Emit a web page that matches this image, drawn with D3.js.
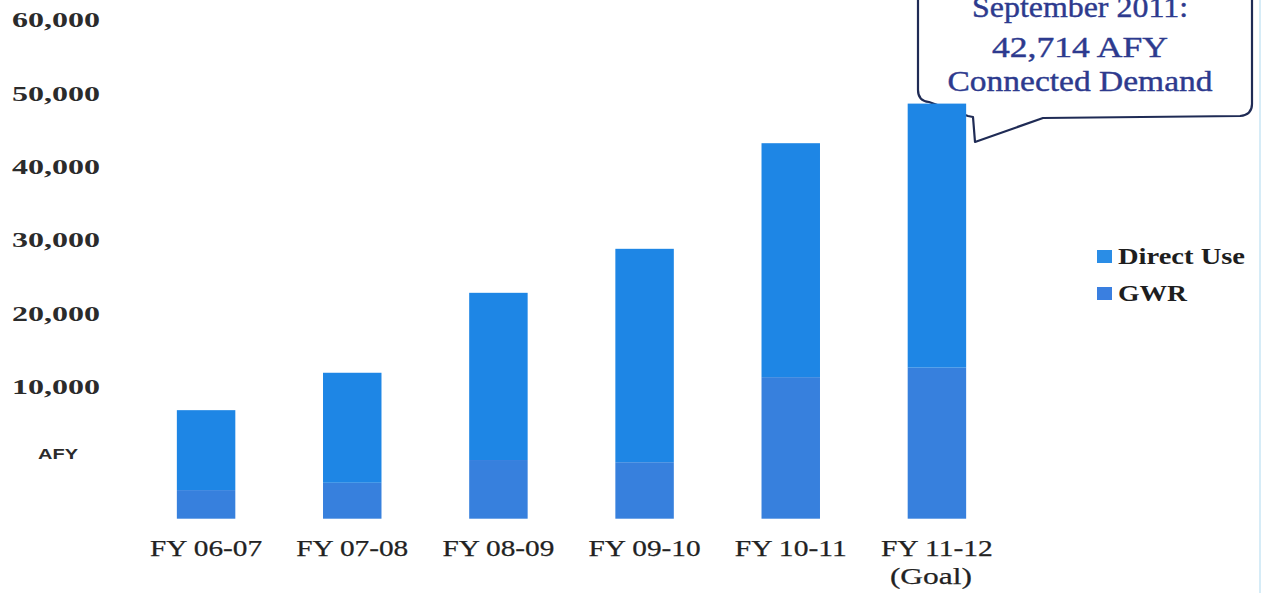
<!DOCTYPE html>
<html>
<head>
<meta charset="utf-8">
<script src="https://cdn.jsdelivr.net/npm/d3@7/dist/d3.min.js"></script>
<style>
  html, body { margin: 0; padding: 0; background: #ffffff; }
  svg { display: block; }
</style>
</head>
<body>
<svg id="chart" width="1263" height="593"></svg>
<script>
// ---- data (segment lengths in AFY) ----
const categories = ["FY 06-07", "FY 07-08", "FY 08-09", "FY 09-10", "FY 10-11", "FY 11-12"];
const subLabels = ["", "", "", "", "", "(Goal)"];
const gwrValues = [3900, 4900, 8000, 7700, 19300, 20600];
const directUseValues = [10900, 15000, 22800, 29100, 31900, 36000];
const seriesNames = ["GWR", "Direct Use"];
const yTickValues = [0, 10000, 20000, 30000, 40000, 50000, 60000];
const legendNames = ["Direct Use", "GWR"];
const calloutLines = ["September 2011:", "42,714 AFY", "Connected Demand"];

const colors = { "Direct Use": "#1e86e5", "GWR": "#3780dd" };
const legendColors = { "Direct Use": "#2a8de6", "GWR": "#3a7fe0" };

const svg = d3.select("#chart");

const y = d3.scaleLinear().domain([-8000, 60000]).range([518.7, 20]);
const x = d3.scaleBand().domain(categories).range([133, 1010]).paddingInner(0.6).paddingOuter(0.3);
const base = y.domain()[0];

// right scan edge
svg.append("line").attr("x1", 1260).attr("x2", 1260).attr("y1", 0).attr("y2", 593)
  .attr("stroke", "#d6ecf7").attr("stroke-width", 2);

// ---- callout (drawn first so the bar covers its lower-left) ----
const callout = svg.append("g");
callout.append("path")
  .attr("d", "M918,-20 L918,90 Q918,101 929,102 L968,116 L973,117 L975,142 L1043,118 L1240,116 Q1252,115 1252,104 L1252,-20")
  .attr("fill", "#ffffff").attr("stroke", "#1f2b55").attr("stroke-width", 2.2)
  .attr("stroke-linejoin", "round");
const calloutWidths = [216, 176, 265];
const calloutY = [17, 57, 91];
callout.selectAll("text").data(calloutLines).join("text")
  .attr("x", 1080).attr("y", (d, i) => calloutY[i])
  .attr("text-anchor", "middle")
  .attr("font-family", "'Liberation Serif', serif")
  .attr("font-size", 29)
  .attr("textLength", (d, i) => calloutWidths[i]).attr("lengthAdjust", "spacingAndGlyphs")
  .attr("fill", "#2d3a8e").attr("stroke", "#2d3a8e").attr("stroke-width", 0.4)
  .text(d => d);

// ---- stacked bars ----
const rows = categories.map((c, i) => ({ cat: c, "GWR": gwrValues[i], "Direct Use": directUseValues[i] }));
const stacked = d3.stack().keys(seriesNames)(rows);

svg.append("g").selectAll("g").data(stacked).join("g")
  .attr("fill", s => colors[s.key])
  .selectAll("rect").data(s => s).join("rect")
  .attr("x", d => x(d.data.cat))
  .attr("width", x.bandwidth())
  .attr("y", d => y(base + d[1]))
  .attr("height", d => y(base + d[0]) - y(base + d[1]));

// ---- y axis ----
const yAxis = svg.append("g").attr("transform", "translate(100,0)")
  .call(d3.axisLeft(y).tickValues(yTickValues).tickSize(0).tickPadding(0)
    .tickFormat(d => d === 0 ? "AFY" : d3.format(",")(d)));
yAxis.select(".domain").remove();
yAxis.selectAll("text")
  .attr("font-family", "'Liberation Serif', serif")
  .attr("font-weight", "bold")
  .attr("font-size", 21)
  .attr("textLength", 88).attr("lengthAdjust", "spacingAndGlyphs")
  .attr("fill", "#2b2b2b");
yAxis.selectAll(".tick").filter(d => d === 0).select("text")
  .attr("font-family", "'Liberation Sans', Arial, sans-serif")
  .attr("font-size", 14)
  .attr("textLength", 40)
  .attr("x", -22).attr("dy", "-0.1em");

// ---- x labels ----
const xl = svg.append("g");
xl.selectAll("text.cat").data(categories).join("text").attr("class", "cat")
  .attr("x", d => x(d) + x.bandwidth() / 2)
  .attr("y", 556)
  .attr("text-anchor", "middle")
  .attr("font-family", "'Liberation Serif', serif")
  .attr("font-size", 24)
  .attr("textLength", 112).attr("lengthAdjust", "spacingAndGlyphs")
  .attr("fill", "#222").attr("stroke", "#222").attr("stroke-width", 0.25)
  .text(d => d);
xl.selectAll("text.sub").data(categories.map((c, i) => ({ c, s: subLabels[i] })).filter(d => d.s))
  .join("text").attr("class", "sub")
  .attr("x", d => x(d.c) + x.bandwidth() / 2 - 6)
  .attr("y", 584)
  .attr("text-anchor", "middle")
  .attr("font-family", "'Liberation Serif', serif")
  .attr("font-size", 24)
  .attr("textLength", 82).attr("lengthAdjust", "spacingAndGlyphs")
  .attr("fill", "#222").attr("stroke", "#222").attr("stroke-width", 0.25)
  .text(d => d.s);

// ---- legend ----
const legendWidths = [127, 69];
const lg = svg.append("g").attr("transform", "translate(1097,248)");
const li = lg.selectAll("g").data(legendNames).join("g")
  .attr("transform", (d, i) => `translate(0,${i * 37})`);
li.append("rect").attr("width", 15).attr("height", 13).attr("y", 2)
  .attr("fill", d => legendColors[d]);
li.append("text").attr("x", 21).attr("y", 16)
  .attr("font-family", "'Liberation Serif', serif")
  .attr("font-weight", "bold").attr("font-size", 24)
  .attr("textLength", (d, i) => legendWidths[i]).attr("lengthAdjust", "spacingAndGlyphs")
  .attr("fill", "#1e1e1e")
  .text(d => d);
</script>
</body>
</html>
